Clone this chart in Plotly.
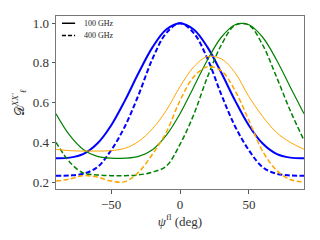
import plotly.graph_objects as go

psi = [-90, -80, -70, -60, -50, -40, -30, -20, -10, 0, 10, 20, 30, 40, 50, 60, 70, 80, 90]

blue_100 = [0.32, 0.323, 0.342, 0.394, 0.485, 0.61, 0.75, 0.878, 0.968, 1.0,
            0.968, 0.878, 0.75, 0.61, 0.485, 0.394, 0.342, 0.323, 0.32]
blue_400 = [0.232, 0.233, 0.242, 0.275, 0.36, 0.48, 0.64, 0.82, 0.95, 1.0,
            0.95, 0.82, 0.64, 0.48, 0.36, 0.275, 0.242, 0.233, 0.232]
green_100 = [0.544, 0.435, 0.363, 0.329, 0.32, 0.32, 0.329, 0.363, 0.435, 0.544,
             0.679, 0.816, 0.929, 0.992, 0.992, 0.929, 0.816, 0.679, 0.544]
green_400 = [0.40, 0.30, 0.245, 0.236, 0.232, 0.232, 0.236, 0.25, 0.28, 0.39,
             0.54, 0.73, 0.89, 0.99, 0.99, 0.89, 0.73, 0.56, 0.41]
orange_100 = [0.365, 0.358, 0.356, 0.356, 0.358, 0.37, 0.405, 0.468, 0.56, 0.68,
              0.78, 0.832, 0.82, 0.75, 0.63, 0.53, 0.45, 0.40, 0.365]
orange_400 = [0.205, 0.215, 0.232, 0.225, 0.205, 0.202, 0.25, 0.34, 0.45, 0.61,
              0.73, 0.78, 0.76, 0.66, 0.51, 0.355, 0.26, 0.213, 0.20]

legend_labels = ["100 GHz", "400 GHz"]

series = [
    (blue_100, "blue", 2.0, "solid"),
    (blue_400, "blue", 2.0, "5px,2.5px"),
    (green_100, "green", 1.2, "solid"),
    (green_400, "green", 1.5, "5px,2.5px"),
    (orange_100, "orange", 1.0, "solid"),
    (orange_400, "orange", 1.5, "5px,2.5px"),
]

fig = go.Figure()
for ys, col, w, dash in series:
    fig.add_trace(go.Scatter(
        x=psi, y=ys, mode="lines",
        line=dict(color=col, width=w, dash=dash, shape="spline", smoothing=1.0),
        showlegend=False, hoverinfo="skip"))

font_family = "Liberation Serif, DejaVu Serif, serif"
txt_col = "#333333"

# legend drawn as small lines and labels in the top-left corner
leg_y = [0.958, 0.887]
leg_dash = ["solid", "4px,2px"]
for lbl, yy, dsh in zip(legend_labels, leg_y, leg_dash):
    fig.add_shape(type="line", xref="paper", yref="paper",
                  x0=0.024, x1=0.077, y0=yy, y1=yy,
                  line=dict(color="black", width=1.5, dash=dsh))
    fig.add_annotation(xref="paper", yref="paper", x=0.105, y=yy,
                       text=lbl, showarrow=False, xanchor="left", yanchor="middle",
                       font=dict(family=font_family, size=8, color="#222"))

# y-axis title
fig.add_annotation(xref="paper", yref="paper", x=-0.15, y=0.5,
                   text="𝒟<sup><i>XX′</i></sup><sub><i>ℓ</i></sub>",
                   textangle=-90, showarrow=False,
                   xanchor="center", yanchor="middle",
                   font=dict(family=font_family, size=13, color=txt_col))

fig.update_layout(
    template="none",
    width=320, height=240,
    margin=dict(l=48, r=24, t=8, b=59),
    paper_bgcolor="white", plot_bgcolor="white",
    font=dict(family=font_family, size=13, color=txt_col),
    showlegend=False,
)
fig.update_xaxes(
    range=[-90, 90], tickvals=[-50, 0, 50],
    showline=True, linecolor="#777", linewidth=1, mirror=True,
    ticks="outside", ticklen=3.5, tickcolor="#555", tickwidth=1,
    tickfont=dict(family=font_family, size=13, color=txt_col),
    showgrid=False, zeroline=False,
    title=dict(text="<i>ψ</i><sup>fl</sup> (deg)", standoff=4,
               font=dict(family=font_family, size=13, color=txt_col)),
)
fig.update_yaxes(
    range=[0.165, 1.036], tickvals=[0.2, 0.4, 0.6, 0.8, 1.0],
    tickformat=".1f",
    showline=True, linecolor="#777", linewidth=1, mirror=True,
    ticks="outside", ticklen=3.5, tickcolor="#555", tickwidth=1,
    tickfont=dict(family=font_family, size=13, color=txt_col),
    showgrid=False, zeroline=False,
)

fig.write_html("out.html")
